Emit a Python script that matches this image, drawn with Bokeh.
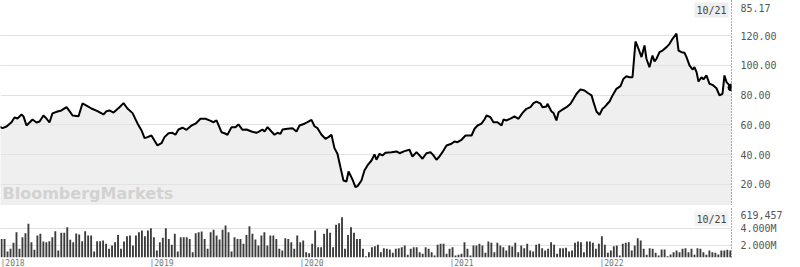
import numpy as np
from bokeh.plotting import figure
from bokeh.layouts import column
from bokeh.models import Range1d, FixedTicker, NumeralTickFormatter, Label
from bokeh.embed import file_html
from bokeh.resources import INLINE

# ---- data (dates as decimal years) ----
years = [2017.920, 2017.940, 2017.967, 2018.000, 2018.020, 2018.040, 2018.067, 2018.080, 2018.100, 2018.127,
         2018.140, 2018.167, 2018.187, 2018.213, 2018.233, 2018.253, 2018.273, 2018.307, 2018.333, 2018.367,
         2018.387, 2018.407, 2018.447, 2018.473, 2018.500, 2018.533, 2018.573, 2018.613, 2018.633, 2018.653,
         2018.680, 2018.720, 2018.747, 2018.773, 2018.807, 2018.840, 2018.867, 2018.887, 2018.907, 2018.933,
         2018.953, 2018.973, 2019.000, 2019.020, 2019.047, 2019.073, 2019.093, 2019.113, 2019.140, 2019.167,
         2019.200, 2019.227, 2019.260, 2019.293, 2019.320, 2019.347, 2019.367, 2019.400, 2019.420, 2019.440,
         2019.467, 2019.493, 2019.513, 2019.540, 2019.567, 2019.600, 2019.633, 2019.653, 2019.673, 2019.687,
         2019.707, 2019.733, 2019.753, 2019.773, 2019.793, 2019.807, 2019.840, 2019.873, 2019.900, 2019.920,
         2019.953, 2019.973, 2020.000, 2020.020, 2020.040, 2020.067, 2020.093, 2020.113, 2020.133, 2020.153,
         2020.173, 2020.193, 2020.213, 2020.233, 2020.247, 2020.273, 2020.293, 2020.307, 2020.333, 2020.353,
         2020.373, 2020.400, 2020.420, 2020.433, 2020.453, 2020.473, 2020.493, 2020.533, 2020.567, 2020.587,
         2020.620, 2020.653, 2020.673, 2020.700, 2020.720, 2020.740, 2020.767, 2020.793, 2020.813, 2020.833,
         2020.853, 2020.873, 2020.900, 2020.933, 2020.953, 2020.973, 2021.000, 2021.027, 2021.067, 2021.087,
         2021.107, 2021.133, 2021.153, 2021.167, 2021.193, 2021.213, 2021.240, 2021.267, 2021.280, 2021.300,
         2021.333, 2021.353, 2021.380, 2021.407, 2021.433, 2021.460, 2021.480, 2021.500, 2021.527, 2021.540,
         2021.567, 2021.573, 2021.600, 2021.613, 2021.633, 2021.647, 2021.673, 2021.700, 2021.727, 2021.747,
         2021.767, 2021.793, 2021.820, 2021.840, 2021.867, 2021.880, 2021.900, 2021.920, 2021.940, 2021.953,
         2021.967, 2021.987, 2022.007, 2022.033, 2022.060, 2022.080, 2022.100, 2022.120, 2022.140, 2022.160,
         2022.180, 2022.200, 2022.220, 2022.233, 2022.253, 2022.273, 2022.287, 2022.300, 2022.320, 2022.340,
         2022.367, 2022.387, 2022.407, 2022.433, 2022.447, 2022.467, 2022.487, 2022.500, 2022.520, 2022.540,
         2022.553, 2022.567, 2022.580, 2022.600, 2022.613, 2022.633, 2022.653, 2022.673, 2022.700, 2022.720,
         2022.740, 2022.753, 2022.767, 2022.787, 2022.800]

prices = [58.9, 57.8, 58.9, 61.8, 65.0, 64.3, 67.0, 65.7, 59.6, 62.3,
          63.6, 61.6, 62.3, 66.3, 64.3, 61.6, 67.7, 69.0, 69.7, 71.9,
          69.2, 66.3, 65.8, 74.4, 73.0, 71.0, 69.2, 67.0, 69.2, 69.7,
          68.3, 71.9, 74.6, 71.0, 67.9, 61.0, 56.3, 51.1, 51.8, 52.9,
          49.5, 46.2, 47.7, 51.8, 54.4, 54.7, 53.4, 56.9, 58.1, 56.7,
          59.6, 60.8, 64.1, 64.1, 63.0, 61.8, 63.0, 55.1, 54.4, 53.4,
          58.5, 58.5, 60.3, 56.7, 56.9, 55.6, 54.7, 55.6, 56.9, 55.6,
          58.5, 55.6, 53.4, 54.7, 54.0, 56.9, 57.4, 57.8, 55.6, 59.6,
          60.8, 61.8, 63.4, 59.1, 57.8, 53.4, 50.7, 51.8, 53.4, 44.4,
          40.6, 31.6, 22.7, 22.0, 28.7, 23.4, 18.2, 18.9, 22.7, 29.4,
          32.8, 36.1, 40.2, 36.6, 40.6, 39.5, 41.3, 41.7, 42.2, 41.0,
          42.4, 43.3, 38.8, 41.7, 39.5, 37.3, 41.0, 41.7, 39.5, 36.6,
          38.8, 41.7, 46.2, 47.3, 48.9, 48.4, 50.0, 52.9, 52.9, 57.4,
          59.6, 60.8, 63.6, 66.3, 65.2, 61.8, 61.8, 59.6, 63.6, 63.0,
          64.5, 65.7, 64.1, 68.1, 70.8, 71.9, 74.6, 75.7, 74.2, 71.9,
          72.4, 74.2, 69.0, 68.1, 63.0, 68.5, 70.2, 71.9, 74.2, 77.5,
          80.9, 83.8, 83.1, 81.6, 79.8, 75.3, 69.0, 66.8, 70.8, 71.9,
          73.5, 75.7, 79.8, 84.2, 86.0, 91.0, 92.7, 92.0, 92.0, 116.0,
          111.1, 105.5, 113.3, 104.4, 98.7, 106.6, 102.6, 104.4, 108.8, 109.9,
          112.2, 114.4, 117.8, 121.2, 109.9, 108.8, 108.4, 105.5, 99.9, 97.2,
          98.7, 95.4, 89.1, 92.0, 90.5, 93.2, 87.6, 86.9, 84.6, 79.8,
          80.9, 93.2, 88.7, 86.5, 85.17]

# weekly volume, millions of shares
volume = [2.78, 2.78, 1.29, 1.61, 2.31, 3.57, 1.61, 2.98, 3.45, 4.55, 2.39, 1.49, 3.18, 3.37, 2.47, 2.39,
          2.51, 2.98, 3.69, 1.41, 3.49, 3.49, 4.16, 2.67, 2.39, 3.41, 3.29, 2.51, 3.69, 3.18, 3.18, 1.29,
          2.51, 2.51, 2.59, 2.20, 1.61, 2.00, 2.39, 3.25, 1.61, 2.47, 3.10, 3.18, 2.00, 3.18, 3.57, 3.76,
          3.10, 3.76, 4.04, 2.98, 1.41, 2.39, 2.90, 4.04, 2.78, 2.08, 3.37, 1.29, 2.98, 2.98, 2.98, 2.78,
          1.22, 3.45, 3.57, 3.65, 2.78, 1.61, 3.57, 3.84, 3.18, 2.71, 3.84, 4.35, 3.57, 1.29, 2.98, 2.78,
          2.78, 2.20, 3.25, 4.27, 3.37, 2.71, 2.00, 3.18, 3.57, 2.00, 3.18, 3.18, 2.78, 1.61, 1.41, 2.86,
          2.78, 2.39, 1.61, 3.18, 2.39, 2.59, 1.22, 1.10, 2.20, 3.76, 1.80, 1.80, 3.37, 3.96, 3.49, 1.80,
          4.43, 4.63, 5.33, 1.61, 3.25, 4.16, 3.49, 2.78, 2.78, 1.61, 0.75, 1.22, 1.80, 1.92, 2.08, 1.22,
          1.69, 1.61, 1.53, 1.14, 1.61, 1.69,
          1.80, 2.00, 0.90, 1.61, 1.80, 1.80, 1.22, 1.02, 1.80, 1.61, 1.22, 0.82, 2.08, 2.20, 2.20, 1.02,
          1.61, 1.80, 0.82, 0.90, 1.02, 2.39, 1.61, 0.82, 2.00, 2.00, 2.20, 2.00, 1.14, 2.47, 2.31, 1.22,
          2.31, 2.00, 1.80, 1.41, 2.00, 1.88, 2.31, 1.22, 2.00, 1.69, 2.20, 1.41, 1.29, 2.08, 2.20, 1.69,
          1.41, 1.61, 2.39, 2.08, 1.02, 1.69, 1.69, 1.73, 1.29, 1.41, 2.31, 2.47, 2.39, 1.22, 2.47, 2.47,
          2.31, 1.61, 2.20, 3.10, 2.08, 1.14, 1.41, 1.92, 2.00, 0.82, 2.20, 2.31, 2.39, 1.41, 2.00, 2.86,
          2.59, 1.61, 0.90, 1.69, 1.61, 1.14, 0.82, 1.53, 1.53, 0.75, 0.94, 1.22, 1.41, 1.22, 1.61, 1.69,
          1.22, 1.61, 0.90, 1.69, 1.61, 1.22, 0.90, 1.41, 1.22, 1.14, 0.94, 1.41, 1.41, 1.49, 1.41]

year_ticks = [2018, 2019, 2020, 2021, 2022]
price_ticks = [20, 40, 60, 80, 100, 120]
volume_ticks = [2, 4]
last_date_label = "10/21"
last_price_label = "85.17"
last_volume_label = "619,457"

# ---- layout constants ----
X_END = 2022.80
X_START = X_END - 731 / 150.0
P_LO, P_HI = 5.9, 143.5
V_LO, V_HI = 0.59, 6.47
P_TAG = P_HI - 8 / 1.49      # axis position of the last-price tag (8 px below the top)
V_TAG = V_HI - 8 / 8.5       # axis position of the last-volume tag
MONO = "DejaVu Sans Mono"

# ---- price panel ----
p1 = figure(frame_width=731, frame_height=205, x_range=Range1d(X_START, X_END),
            y_range=Range1d(P_LO, P_HI), output_backend="svg", toolbar_location=None,
            x_axis_location=None, y_axis_location="right",
            min_border_left=0, min_border_right=69, min_border_top=0, min_border_bottom=0,
            outline_line_color=None, background_fill_color="white", border_fill_color="white")

area = p1.varea(x=years, y1=0, y2=prices, fill_color="#efefef")
area.level = "image"
p1.line(years, prices, line_color="black", line_width=2)
p1.scatter([years[-1]], [prices[-1]], size=7, color="black")

p1.xgrid.visible = False
p1.ygrid.ticker = FixedTicker(ticks=price_ticks)
p1.ygrid.grid_line_color = "#e2e2e2"

ax = p1.yaxis[0]
ax.ticker = FixedTicker(ticks=price_ticks + [P_TAG])
ax.formatter = NumeralTickFormatter(format="0.00")
ax.major_label_overrides = {P_TAG: last_price_label}
ax.major_tick_line_color = None
ax.major_tick_out = 0
ax.major_tick_in = 0
ax.minor_tick_line_color = None
ax.major_label_standoff = 9
ax.axis_line_color = "#555555"
ax.axis_line_dash = "1 2"
ax.major_label_text_font = MONO
ax.major_label_text_font_size = "10px"
ax.major_label_text_color = "#555555"

p1.add_layout(Label(x=X_END, y=P_HI, x_offset=-3, y_offset=-2, text=last_date_label,
                    text_align="right", text_baseline="top", text_font=MONO, text_font_size="10px",
                    text_color="#444444", background_fill_color="#eeeeee", padding=2))
p1.add_layout(Label(x=X_START, y=P_LO, x_offset=2, y_offset=3, text="BloombergMarkets",
                    text_align="left", text_baseline="bottom", text_font="DejaVu Sans",
                    text_font_style="bold", text_font_size="16px", text_color="#d2d2d2"))

# ---- separator ----
sep = figure(width=800, height=2, output_backend="svg", toolbar_location=None,
             x_axis_location=None, y_axis_location=None, min_border=0,
             outline_line_color=None, background_fill_color="#9a9a9a", border_fill_color="#9a9a9a",
             x_range=Range1d(0, 1), y_range=Range1d(0, 1))
sep.xgrid.visible = False
sep.ygrid.visible = False
sep.line([0, 1], [0.5, 0.5], line_color="#9a9a9a", line_width=2)

# ---- volume panel ----
vol_x = np.linspace(X_START + 0.007, X_END - 0.008, len(volume))
p2 = figure(frame_width=731, frame_height=50, x_range=p1.x_range, y_range=Range1d(V_LO, V_HI),
            output_backend="svg", toolbar_location=None, y_axis_location="right",
            min_border_left=0, min_border_right=69, min_border_top=0, min_border_bottom=10,
            outline_line_color=None, background_fill_color="white", border_fill_color="white")
p2.vbar(x=vol_x, top=volume, bottom=V_LO, width=0.0125, fill_color="#3c3c3c", line_color=None)

p2.xgrid.visible = False
p2.ygrid.ticker = FixedTicker(ticks=volume_ticks)
p2.ygrid.grid_line_color = "#e2e2e2"

vy = p2.yaxis[0]
vy.ticker = FixedTicker(ticks=volume_ticks + [V_TAG])
overrides = {t: f"{t:.3f}M" for t in volume_ticks}
overrides[V_TAG] = last_volume_label
vy.major_label_overrides = overrides
vy.major_tick_line_color = None
vy.major_tick_out = 0
vy.major_tick_in = 0
vy.minor_tick_line_color = None
vy.major_label_standoff = 9
vy.axis_line_color = "#555555"
vy.axis_line_dash = "1 2"
vy.major_label_text_font = MONO
vy.major_label_text_font_size = "10px"
vy.major_label_text_color = "#555555"

vx = p2.xaxis[0]
vx.ticker = FixedTicker(ticks=year_ticks)
vx.major_label_overrides = {t: f"|{t}" for t in year_ticks}
vx.axis_line_color = None
vx.major_tick_line_color = None
vx.major_tick_out = 0
vx.major_tick_in = 0
vx.minor_tick_line_color = None
vx.major_label_standoff = 1
vx.major_label_text_align = "left"
vx.major_label_text_font = MONO
vx.major_label_text_font_size = "8px"
vx.major_label_text_color = "#777777"

p2.add_layout(Label(x=X_END, y=V_HI, x_offset=-3, y_offset=-4, text=last_date_label,
                    text_align="right", text_baseline="top", text_font=MONO, text_font_size="10px",
                    text_color="#444444", background_fill_color="#f3f3f3", padding=2))

layout = column(p1, sep, p2, spacing=0)
open("out.html", "w").write(file_html(layout, INLINE))
